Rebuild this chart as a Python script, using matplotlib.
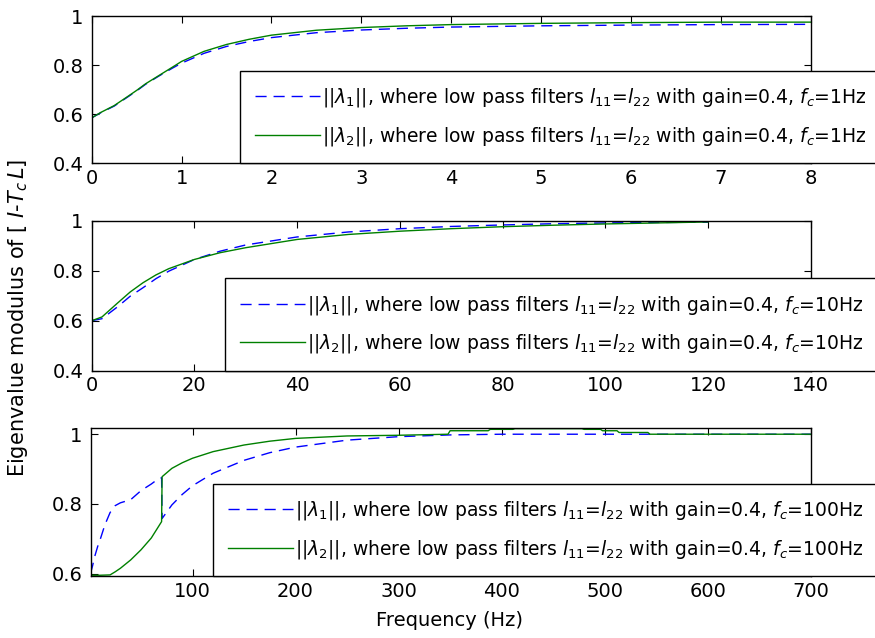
import matplotlib
matplotlib.use("Agg")
import matplotlib.pyplot as plt

plt.rcParams["font.family"] = ["DejaVu Sans"]
plt.rcParams["mathtext.fontset"] = "dejavusans"
plt.rcParams["font.size"] = 14

# ---- fc = 1 Hz ----
f_1hz = [0, 0.1, 0.25, 0.4, 0.5, 0.6, 0.75, 0.9, 1.0, 1.25, 1.5, 1.75,
         2.0, 2.5, 3.0, 3.5, 4.0, 5.0, 6.0, 7.0, 8.0]
lam1_1hz = [0.585, 0.606, 0.633, 0.67, 0.695, 0.722, 0.756, 0.788, 0.808, 0.848,
            0.876, 0.896, 0.912, 0.932, 0.943, 0.950, 0.955, 0.960, 0.963, 0.965, 0.966]
lam2_1hz = [0.585, 0.607, 0.635, 0.672, 0.697, 0.724, 0.758, 0.792, 0.815, 0.856,
            0.884, 0.905, 0.922, 0.942, 0.953, 0.960, 0.965, 0.970, 0.973, 0.975, 0.975]

# ---- fc = 10 Hz ----
f_10hz = [0, 2, 5, 7.5, 10, 12.5, 15, 20, 25, 30, 40, 50, 60, 70, 80, 90,
          100, 110, 120]
lam1_10hz = [0.600, 0.608, 0.655, 0.698, 0.732, 0.768, 0.798, 0.845, 0.878, 0.903,
             0.935, 0.955, 0.968, 0.977, 0.983, 0.988, 0.991, 0.993, 0.994]
lam2_10hz = [0.600, 0.615, 0.670, 0.715, 0.752, 0.783, 0.808, 0.845, 0.872, 0.892,
             0.925, 0.945, 0.958, 0.968, 0.976, 0.982, 0.987, 0.991, 0.995]

# ---- fc = 100 Hz ----
f1_100hz = [1, 3, 5, 8, 10, 15, 20, 25, 30, 40, 50, 60, 65, 70, 70.5, 80, 90,
            100, 120, 150, 175, 200, 250, 300, 350, 400, 500, 600, 700]
lam1_100hz = [0.600, 0.622, 0.648, 0.678, 0.694, 0.740, 0.775, 0.795, 0.803, 0.812,
              0.838, 0.857, 0.868, 0.875, 0.758, 0.797, 0.827, 0.852, 0.888, 0.925,
              0.947, 0.963, 0.983, 0.993, 0.998, 1.000, 1.000, 1.000, 1.000]
f2_100hz = [1, 10, 20, 25, 30, 40, 50, 60, 70, 70.5, 80, 90, 100, 120, 150,
            175, 200, 250, 300, 348, 350, 387, 389, 411, 413, 478, 480, 496, 498,
            512, 514, 542, 544, 700]
lam2_100hz = [0.595, 0.595, 0.596, 0.605, 0.615, 0.639, 0.668, 0.702, 0.749, 0.878,
              0.902, 0.918, 0.931, 0.950, 0.969, 0.980, 0.988, 0.995, 0.997, 1.000,
              1.010, 1.010, 1.014, 1.014, 1.016, 1.016, 1.014, 1.014, 1.010, 1.010,
              1.005, 1.005, 1.000, 1.000]

x_ticks_1hz = [0, 1, 2, 3, 4, 5, 6, 7, 8]
x_ticks_10hz = [0, 20, 40, 60, 80, 100, 120, 140]
x_ticks_100hz = [100, 200, 300, 400, 500, 600, 700]
y_ticks_upper = [0.4, 0.6, 0.8, 1.0]
y_labels_upper = ["0.4", "0.6", "0.8", "1"]
y_ticks_lower = [0.6, 0.8, 1.0]
y_labels_lower = ["0.6", "0.8", "1"]

cutoffs = ["1Hz", "10Hz", "100Hz"]

BLUE = "#0000ff"
GREEN = "#008000"
W, H = 875, 638
fig = plt.figure(figsize=(W / 100, H / 100), dpi=100)


def px_axes(left, top, right, bottom):
    return fig.add_axes([left / W, 1 - bottom / H, (right - left) / W, (bottom - top) / H])


def style(ax):
    for s in ax.spines.values():
        s.set_linewidth(1.0)
        s.set_color("black")
    ax.tick_params(direction="in", length=5, width=0.8, top=True, right=True,
                   labelsize=14, colors="black")
    ax.tick_params(axis="x", pad=4)
    ax.tick_params(axis="y", pad=6)


def label(k, fc):
    return (r"$||\lambda_{%d}||$, where low pass filters $l_{11}$=$l_{22}$"
            r" with gain=0.4, $f_c$=%s" % (k, fc))


def add_legend(ax, h1, h2, fc, left_px, bottom_px):
    leg = ax.legend([h1, h2], [label(1, fc), label(2, fc)],
                    loc="lower left",
                    bbox_to_anchor=(left_px / W, 1 - bottom_px / H),
                    bbox_transform=fig.transFigure,
                    borderaxespad=0, fancybox=False, framealpha=1,
                    edgecolor="black", fontsize=13.5, handlelength=3.45,
                    handletextpad=0.1, borderpad=0.82, labelspacing=0.84)
    leg.get_frame().set_linewidth(1.0)
    return leg


dash = (0, (8, 5))

# Panel 1
ax1 = px_axes(91.7, 16, 810.7, 163.3)
h1, = ax1.plot(f_1hz, lam1_1hz, color=BLUE, lw=1.0, linestyle=dash)
h2, = ax1.plot(f_1hz, lam2_1hz, color=GREEN, lw=1.0)
ax1.set_xlim(0, 8)
ax1.set_ylim(0.4, 1.0)
ax1.set_xticks(x_ticks_1hz)
ax1.set_yticks(y_ticks_upper, y_labels_upper)
style(ax1)
add_legend(ax1, h1, h2, cutoffs[0], 240, 163.3)

# Panel 2
ax2 = px_axes(91.7, 220.7, 810.7, 370.7)
h1, = ax2.plot(f_10hz, lam1_10hz, color=BLUE, lw=1.0, linestyle=dash)
h2, = ax2.plot(f_10hz, lam2_10hz, color=GREEN, lw=1.0)
ax2.set_xlim(0, 140)
ax2.set_ylim(0.4, 1.0)
ax2.set_xticks(x_ticks_10hz)
ax2.set_yticks(y_ticks_upper, y_labels_upper)
style(ax2)
add_legend(ax2, h1, h2, cutoffs[1], 225, 370.7)

# Panel 3
ax3 = px_axes(90.5, 428.3, 810.7, 576.3)
h1, = ax3.plot(f1_100hz, lam1_100hz, color=BLUE, lw=1.0, linestyle=dash)
h2, = ax3.plot(f2_100hz, lam2_100hz, color=GREEN, lw=1.0)
ax3.set_xlim(1, 700)
ax3.set_ylim(0.592, 1.017)
ax3.set_xticks(x_ticks_100hz)
ax3.set_yticks(y_ticks_lower, y_labels_lower)
style(ax3)
add_legend(ax3, h1, h2, cutoffs[2], 213, 576.3)

fig.text(450 / W, 1 - 620 / H, "Frequency (Hz)", ha="center", va="center",
         fontsize=14)
fig.text(18 / W, 1 - 318 / H, r"Eigenvalue modulus of [ $I$-$T_c\,L$]",
         rotation=90, ha="center", va="center", fontsize=15)

fig.savefig("out.png", dpi=100)
